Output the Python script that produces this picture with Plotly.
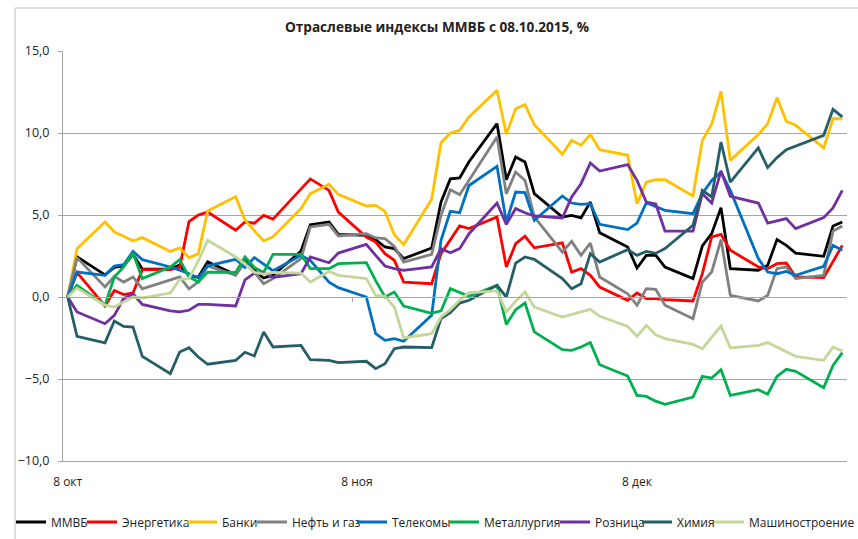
import plotly.graph_objects as go

dates = [
    "2015-10-08", "2015-10-09", "2015-10-12", "2015-10-13", "2015-10-14", "2015-10-15", "2015-10-16",
    "2015-10-19", "2015-10-20", "2015-10-21", "2015-10-22", "2015-10-23",
    "2015-10-26", "2015-10-27", "2015-10-28", "2015-10-29", "2015-10-30",
    "2015-11-02", "2015-11-03", "2015-11-05", "2015-11-06",
    "2015-11-09", "2015-11-10", "2015-11-11", "2015-11-12", "2015-11-13",
    "2015-11-16", "2015-11-17", "2015-11-18", "2015-11-19", "2015-11-20",
    "2015-11-23", "2015-11-24", "2015-11-25", "2015-11-26", "2015-11-27",
    "2015-11-30", "2015-12-01", "2015-12-02", "2015-12-03", "2015-12-04",
    "2015-12-07", "2015-12-08", "2015-12-09", "2015-12-10", "2015-12-11",
    "2015-12-14", "2015-12-15", "2015-12-16", "2015-12-17", "2015-12-18",
    "2015-12-21", "2015-12-22", "2015-12-23", "2015-12-24", "2015-12-25",
    "2015-12-28", "2015-12-29", "2015-12-30",
]

micex = [0, 2.45, 1.35, 1.8, 1.9, 2.6, 1.7, 1.7, 1.95, 1.3, 1.2, 2.15,
         1.36, 2.24, 1.63, 1.16, 1.32, 2.8, 4.4, 4.57, 3.82,
         3.76, 3.5, 3.05, 2.95, 2.34, 2.99, 5.79, 7.2, 7.26, 8.25,
         10.57, 7.15, 8.54, 8.23, 6.3, 4.88, 4.98, 4.82, 5.79, 3.92,
         3.05, 1.77, 2.54, 2.56, 1.83, 1.12, 3.11, 3.86, 5.45, 1.73,
         1.63, 1.93, 3.5, 3.15, 2.68, 2.48, 4.33, 4.57]

energy = [0, 1.5, -0.55, 0.4, 0.15, 0.25, 1.67, 1.67, 1.8, 4.6, 5.0, 5.18,
          4.07, 4.57, 4.5, 4.98, 4.75, 6.6, 7.2, 6.5, 5.18,
          3.66, 3.35, 2.64, 2.24, 0.91, 0.81, 2.64, 3.46, 4.33, 4.17,
          4.88, 1.83, 3.25, 3.7, 3.0, 3.3, 1.52, 1.73, 1.32, 0.61,
          -0.2, 0.24, -0.1, -0.1, -0.16, -0.24, 1.42, 3.66, 3.82, 2.85,
          1.83, 1.73, 2.03, 2.07, 1.22, 1.18, 2.13, 3.15]

banks = [0, 2.95, 4.57, 3.96, 3.7, 3.41, 3.62, 2.78, 2.99, 2.4, 2.63, 5.24,
         6.12, 4.7, 4.05, 3.42, 3.68, 5.39, 6.3, 6.87, 6.26,
         5.55, 5.59, 5.22, 3.8, 3.19, 5.96, 9.41, 10.0, 10.16, 10.98,
         12.6, 9.92, 11.48, 11.73, 10.5, 8.7, 9.55, 9.25, 9.92, 8.98,
         8.64, 5.69, 7.0, 7.15, 7.15, 6.16, 9.55, 10.53, 12.54, 8.33,
         9.9, 10.57, 12.15, 10.71, 10.47, 9.09, 10.87, 10.87]

oil_gas = [0, 2.4, 0.61, 1.26, 0.91, 1.22, 0.5, 1.05, 1.22, 0.5, 0.92, 1.9,
           1.32, 2.13, 1.52, 0.81, 1.12, 2.34, 4.27, 4.43, 3.72,
           3.86, 3.6, 3.56, 3.09, 2.13, 2.6, 4.98, 6.54, 6.24, 7.11,
           9.76, 6.3, 7.62, 7.11, 4.88, 2.74, 3.39, 2.54, 3.29, 1.22,
           0.2, -0.5, 0.51, 0.47, -0.5, -1.32, 0.91, 1.52, 3.5, 0.1,
           -0.24, 0.1, 1.73, 1.83, 1.12, 1.32, 4.02, 4.33]

telecom = [0, 1.52, 1.32, 1.89, 1.97, 2.78, 2.28, 1.83, 1.63, 1.42, 1.16, 1.9,
           2.3, 1.8, 2.4, 2.0, 1.6, 2.54, 2.24, 0.91, 0.57,
           0.0, -2.24, -2.64, -2.54, -2.7, -1.12, 3.46, 5.22, 5.14, 6.8,
           7.97, 4.57, 6.4, 6.36, 4.67, 6.16, 5.73, 5.65, 5.69, 4.43,
           4.11, 4.51, 5.75, 5.5, 5.28, 5.08, 6.3, 7.11, 7.62, 6.5,
           2.34, 1.52, 1.42, 1.56, 1.32, 1.87, 3.15, 2.85]

metals = [0, 0.71, -0.5, 1.22, 1.83, 2.68, 1.12, 1.83, 2.28, 1.22, 0.91, 1.52,
          1.5, 2.45, 1.8, 1.5, 2.6, 2.6, 1.73, 1.73, 2.03,
          2.09, 1.0, 0.0, 0.3, -0.55, -1.0, -0.85, 0.51, 0.26, 0.04,
          0.71, -1.67, -0.77, -0.37, -2.13, -3.21, -3.25, -3.05, -2.78, -4.13,
          -4.82, -6.0, -6.06, -6.35, -6.54, -6.1, -4.84, -4.94, -4.43, -6.0,
          -5.65, -5.93, -4.84, -4.41, -4.53, -5.53, -4.17, -3.39]

retail = [0, -0.91, -1.63, -1.12, -0.1, 0.2, -0.45, -0.85, -0.91, -0.81, -0.45, -0.45,
          -0.55, 1.05, 1.45, 1.46, 1.2, 1.42, 2.44, 2.09, 2.68,
          3.21, 2.54, 1.89, 1.73, 1.63, 1.83, 2.95, 2.7, 2.95, 3.86,
          5.73, 4.43, 5.39, 5.14, 4.94, 4.82, 6.1, 6.91, 8.17, 7.68,
          8.07, 7.11, 5.79, 5.67, 4.02, 4.02, 6.3, 5.73, 7.68, 6.14,
          5.73, 4.51, 4.63, 4.78, 4.17, 4.84, 5.43, 6.5]

chemicals = [0, -2.4, -2.8, -1.46, -1.79, -1.83, -3.62, -4.67, -3.35, -3.09, -3.66, -4.1,
             -3.86, -3.37, -3.6, -2.13, -3.05, -2.95, -3.82, -3.86, -4.0,
             -3.92, -4.37, -4.07, -3.15, -3.05, -3.09, -1.32, -0.96, -0.37, -0.2,
             0.71, 0.0, 2.07, 2.44, 2.3, 1.12, 0.51, 0.81, 2.64, 2.13,
             2.89, 2.54, 2.78, 2.66, 2.95, 4.37, 6.5, 6.1, 9.45, 7.0,
             9.09, 7.89, 8.5, 8.98, 9.19, 9.86, 11.44, 10.98]

machinery = [0, 0.55, -0.5, -0.61, -0.3, 0.0, -0.06, 0.24, 1.08, 1.12, 2.2, 3.46,
             2.44, 2.0, 1.5, 1.4, 1.5, 1.46, 0.91, 1.56, 1.32,
             1.12, 0.1, 0.04, -0.61, -2.5, -2.24, -1.22, -0.77, -0.2, 0.26,
             0.37, -0.91, -0.26, 0.3, -0.61, -1.22, -1.08, -0.91, -0.75, -1.18,
             -1.79, -2.4, -1.73, -2.3, -2.54, -2.89, -3.15, -2.44, -1.77, -3.11,
             -2.95, -2.78, -3.05, -3.35, -3.62, -3.86, -3.05, -3.29]

series_names = ["ММВБ", "Энергетика", "Банки", "Нефть и газ", "Телекомы",
                "Металлургия", "Розница", "Химия", "Машиностроение"]
series_values = [micex, energy, banks, oil_gas, telecom, metals, retail, chemicals, machinery]
series_colors = ["#000000", "#FF0000", "#FFC000", "#808080", "#0070C0",
                 "#00B050", "#7030A0", "#255E69", "#C4D79B"]

tick_dates = ["2015-10-08", "2015-11-08", "2015-12-08"]
tick_labels = ["8 окт", "8 ноя", "8 дек"]
boundary_ticks = ["2015-11-07 12:00", "2015-12-07 12:00"]
x_range = ["2015-10-07 12:00", "2015-12-30 12:00"]

# left pixel where each legend entry text starts in the reference
legend_text_px = [51, 122, 222, 292, 392, 484, 595, 677, 749]

W, H = 858, 539
FONT = "Open Sans"
GRID = "#A6A6A6"
TXT = "#222222"

fig = go.Figure()
legend_layouts = {}
for i, (name, vals, col) in enumerate(zip(series_names, series_values, series_colors)):
    key = "legend" if i == 0 else f"legend{i + 1}"
    fig.add_trace(go.Scatter(x=dates, y=vals, name=name, mode="lines", legend=key,
                             line=dict(color=col, width=2.8), hoverinfo="x+y+name"))
    legend_layouts[key] = dict(
        orientation="h", xref="container", yref="container",
        x=(legend_text_px[i] - 40) / W, xanchor="left",
        y=1 - 522 / H, yanchor="middle",
        font=dict(family=FONT, size=12, color=TXT),
        itemwidth=30, bgcolor="rgba(0,0,0,0)", borderwidth=0,
    )

fig.update_layout(
    width=W, height=H,
    margin=dict(l=63, r=11, t=51, b=78, autoexpand=False),
    paper_bgcolor="white", plot_bgcolor="white",
    separators=", ",
    font=dict(family=FONT, size=12, color=TXT),
    title=dict(text="<b>Отраслевые индексы ММВБ с 08.10.2015, %</b>",
               x=437 / W, xref="container", xanchor="center",
               y=1 - 27 / H, yref="container", yanchor="middle",
               font=dict(family=FONT, size=13.6, color=TXT)),
    showlegend=True,
    xaxis=dict(type="date", range=x_range, tickvals=tick_dates, ticktext=tick_labels,
               showgrid=False, showline=True, linecolor=GRID, linewidth=1,
               ticks="", ticklabelstandoff=10, zeroline=False,
               tickfont=dict(family=FONT, size=12, color=TXT)),
    xaxis2=dict(type="date", range=x_range, overlaying="x", anchor="free", position=0.4,
                tickvals=boundary_ticks, showticklabels=False, showgrid=False,
                showline=True, linecolor=GRID, linewidth=1,
                ticks="outside", ticklen=4, tickcolor=GRID, zeroline=False),
    yaxis=dict(range=[-10, 15], dtick=5, tick0=0, tickformat=".1f",
               showgrid=True, gridcolor=GRID, gridwidth=1,
               showline=True, linecolor=GRID, linewidth=1,
               ticks="outside", ticklen=4, tickcolor=GRID, ticklabelstandoff=6,
               zeroline=False,
               tickfont=dict(family=FONT, size=12.5, color=TXT)),
    shapes=[dict(type="rect", xref="paper", yref="paper",
                 x0=(15 - 63) / 784, x1=1.05, y0=-0.25, y1=(461 - 8) / 410,
                 line=dict(color="#BFBFBF", width=1), fillcolor="rgba(0,0,0,0)",
                 layer="below")],
    **legend_layouts,
)

# empty trace on the overlay axis so the zero-line axis with its ticks is drawn
fig.add_trace(go.Scatter(x=[x_range[0]], y=[None], xaxis="x2", showlegend=False,
                         hoverinfo="skip", mode="lines"))

fig.write_html("out.html", config={"displayModeBar": False},
               post_script="document.body.style.margin='0';document.body.style.overflow='hidden';")
